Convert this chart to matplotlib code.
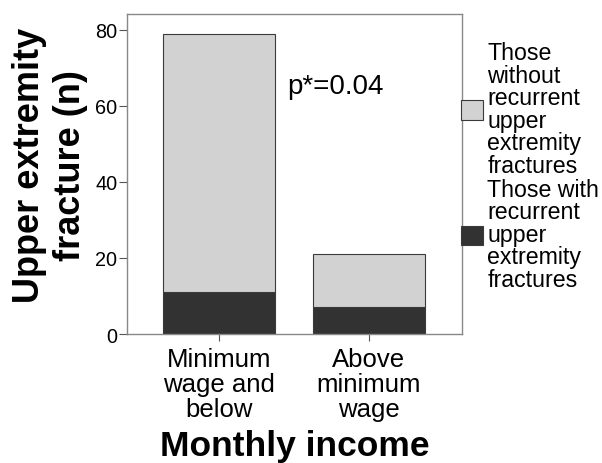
import matplotlib
matplotlib.use("Agg")
import matplotlib.pyplot as plt
from matplotlib.patches import Patch

categories = ["Minimum\nwage and\nbelow", "Above\nminimum\nwage"]
with_recurrent = [11, 7]
without_recurrent = [68, 14]
series_labels = ["Those\nwithout\nrecurrent\nupper\nextremity\nfractures",
                 "Those with\nrecurrent\nupper\nextremity\nfractures"]
yticks = [0, 20, 40, 60, 80]

plt.rcParams['font.family'] = ['Liberation Sans', 'DejaVu Sans']
light = "#d2d2d2"
dark = "#323232"
edge = "#3a3a3a"

fig = plt.figure(figsize=(6.02, 4.64), dpi=100)
ax = fig.add_axes([0.211, 0.278, 0.556, 0.690])
x = list(range(len(categories)))
ax.bar(x, with_recurrent, width=0.75, color=dark, edgecolor=edge, linewidth=0.8)
ax.bar(x, without_recurrent, width=0.75, bottom=with_recurrent, color=light,
       edgecolor=edge, linewidth=0.8)
ax.set_xlim(-0.613, 1.62)
ax.set_ylim(0, 84.2)
ax.set_yticks(yticks)
ax.set_xticks(x)
ax.set_xticklabels(categories, fontsize=18.5, linespacing=1.06)
ax.tick_params(axis='y', labelsize=14.3, length=6, color="#555555", pad=1)
ax.tick_params(axis='x', length=5, color="#555555", pad=4)
for s in ax.spines.values():
    s.set_color("#888888")
    s.set_linewidth(1.0)
ax.text(0.453, 65.3, "p*=0.04", fontsize=20, va='center', ha='left')
ax.set_ylabel("Upper extremity\nfracture (n)", fontsize=26, fontweight='bold',
              linespacing=1.2, va='center', ha='center')
ax.yaxis.set_label_coords(-0.23, 0.53)
ax.set_xlabel("Monthly income", fontsize=25.5, fontweight='bold', va='top')
ax.xaxis.set_label_coords(0.5, -0.296)

handles = [Patch(facecolor=light, edgecolor=edge, linewidth=0.8),
           Patch(facecolor=dark, edgecolor=edge, linewidth=0.8)]
leg = ax.legend(handles, series_labels, loc='center left', bbox_to_anchor=(0.997, 0.525),
                frameon=False, fontsize=16.7, handlelength=0.95, handleheight=0.9,
                handletextpad=0.2, borderaxespad=0, borderpad=0, labelspacing=0.05)
for t in leg.get_texts():
    t.set_linespacing(0.97)

fig.savefig("out.png", dpi=100)
